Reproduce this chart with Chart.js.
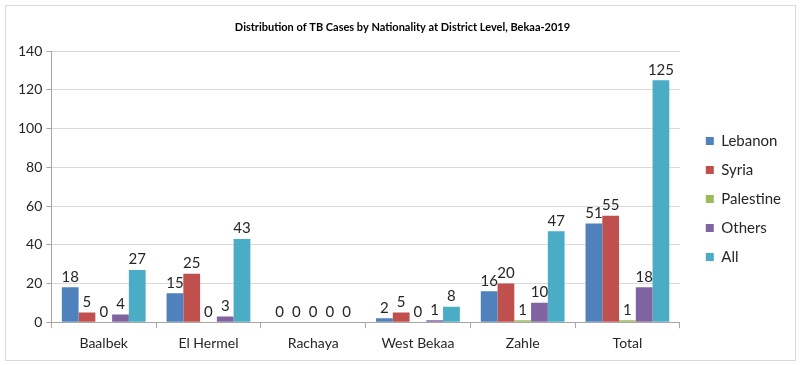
<!DOCTYPE html>
<html>
<head>
<meta charset="utf-8">
<script src="https://cdn.jsdelivr.net/npm/chart.js@4.4.0/dist/chart.umd.min.js"></script>
<style>
  html, body { margin: 0; padding: 0; background: #fff; }
  #box {
    position: absolute; left: 5px; top: 5px;
    width: 789px; height: 354px;
    border: 1px solid #d9d9d9; background: #fff;
  }
  #box canvas { display: block; }
</style>
</head>
<body>
<div id="box"><canvas id="chart" width="789" height="354"></canvas></div>
<script>
// district-level counts
const districts = ['Baalbek', 'El Hermel', 'Rachaya', 'West Bekaa', 'Zahle', 'Total'];
const lebanon   = [18, 15, 0, 2, 16, 51];
const syria     = [5, 25, 0, 5, 20, 55];
const palestine = [0, 0, 0, 0, 1, 1];
const others    = [4, 3, 0, 1, 10, 18];
const all       = [27, 43, 0, 8, 47, 125];

const fontFamily = 'Lato, "Liberation Sans", sans-serif';
const legendGap = 12; // extra room between plot and legend

// write each bar's value above it, like Excel data labels
const valueLabels = {
  id: 'valueLabels',
  afterDatasetsDraw(chart) {
    const ctx = chart.ctx;
    ctx.save();
    ctx.font = '15px ' + fontFamily;
    ctx.fillStyle = '#262626';
    ctx.textAlign = 'center';
    ctx.textBaseline = 'bottom';
    chart.data.datasets.forEach((ds, i) => {
      const meta = chart.getDatasetMeta(i);
      meta.data.forEach((bar, j) => {
        ctx.fillText(String(ds.data[j]), bar.x, bar.y - 3);
      });
    });
    ctx.restore();
  }
};

// widen the legend box but keep its items at the right
const legendSpacer = {
  id: 'legendSpacer',
  afterInit(chart) {
    const lg = chart.legend;
    const fit = lg.fit;
    lg.fit = function () { fit.call(this); this.width += legendGap; };
  },
  afterLayout(chart) {
    chart.legend.left += legendGap;
  }
};

new Chart(document.getElementById('chart'), {
  type: 'bar',
  data: {
    labels: districts,
    datasets: [
      { label: 'Lebanon',   data: lebanon,   backgroundColor: '#4F81BD' },
      { label: 'Syria',     data: syria,     backgroundColor: '#C0504D' },
      { label: 'Palestine', data: palestine, backgroundColor: '#9BBB59' },
      { label: 'Others',    data: others,    backgroundColor: '#8064A2' },
      { label: 'All',       data: all,       backgroundColor: '#4BACC6' }
    ]
  },
  options: {
    responsive: false,
    animation: false,
    datasets: { bar: { barPercentage: 1, categoryPercentage: 0.8 } },
    layout: { padding: { left: 8, right: 4, top: 0, bottom: 1 } },
    plugins: {
      title: {
        display: true,
        text: 'Distribution of TB Cases by Nationality at District Level, Bekaa-2019',
        color: '#000',
        font: { family: fontFamily, size: 11, weight: 'bold' },
        padding: { top: 15, bottom: 17 }
      },
      legend: {
        position: 'right',
        title: { display: true, text: ' ', font: { size: 1 }, padding: { top: 16, bottom: 16 } },
        labels: {
          boxWidth: 8, boxHeight: 8, padding: 14,
          color: '#262626',
          font: { family: fontFamily, size: 15 }
        }
      },
      tooltip: { enabled: false }
    },
    scales: {
      x: {
        grid: {
          offset: true, drawOnChartArea: false, tickLength: 6,
          color: '#a6a6a6'
        },
        border: { color: '#a6a6a6' },
        ticks: { color: '#262626', font: { family: fontFamily, size: 14 }, padding: 7 }
      },
      y: {
        min: 0, max: 140,
        ticks: { stepSize: 20, color: '#262626', font: { family: fontFamily, size: 14 }, padding: 4 },
        grid: { color: '#d9d9d9', tickLength: 5, tickColor: '#a6a6a6' },
        border: { color: '#a6a6a6' }
      }
    }
  },
  plugins: [valueLabels, legendSpacer]
});
</script>
</body>
</html>
